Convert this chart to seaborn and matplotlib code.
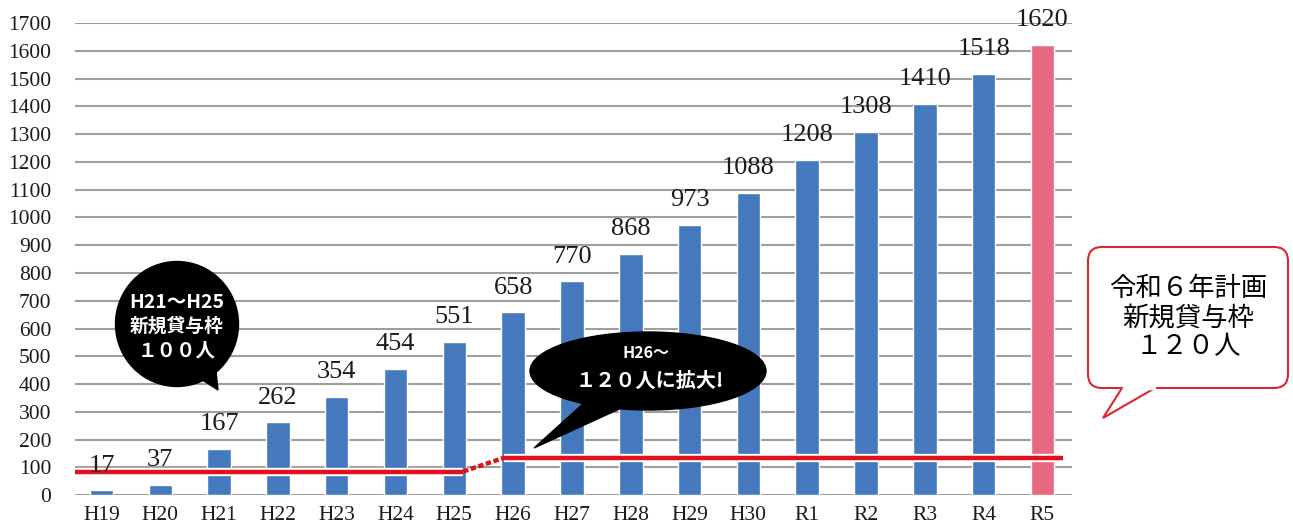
import numpy as np
import pandas as pd
import matplotlib
matplotlib.use("Agg")
import matplotlib.pyplot as plt
import seaborn as sns
from matplotlib.patches import Ellipse, Polygon, FancyBboxPatch

# data
years = ['H19', 'H20', 'H21', 'H22', 'H23', 'H24', 'H25', 'H26', 'H27',
         'H28', 'H29', 'H30', 'R1', 'R2', 'R3', 'R4', 'R5']
students = [17, 37, 167, 262, 354, 454, 551, 658, 770, 868, 973, 1088,
            1208, 1308, 1410, 1518, 1620]
bar_colors = ['#4479be'] * 16 + ['#e86880']
# new loan quota lines (schematic, as drawn)
quota_old = 85
quota_new = 135

sns.set_theme(style="whitegrid")
plt.rcParams['font.family'] = ['Liberation Serif', 'Noto Sans CJK JP']

df = pd.DataFrame({'year': years, 'n': students})

fig = plt.figure(figsize=(12.93, 5.29), dpi=100)
ax = fig.add_axes([0.058, 0.064, 0.771, 0.8925])

sns.barplot(data=df, x='year', y='n', hue='year', palette=bar_colors,
            legend=False, width=0.4, saturation=1, ax=ax, zorder=2)

ax.set_xlim(-0.45, 16.5)
ax.set_ylim(0, 1700)
ax.set_yticks(range(0, 1701, 100))
ax.set_xlabel('')
ax.set_ylabel('')
ax.set_axisbelow(True)
ax.grid(axis='y', color='#9e9e9e', linewidth=1.5)
ax.grid(axis='x', visible=False)
for s in ax.spines.values():
    s.set_visible(False)
ax.tick_params(axis='both', length=0, labelsize=15.5, colors='#1a1a1a')
ax.tick_params(axis='y', pad=17)
ax.tick_params(axis='x', pad=8)

# quota lines
xs_old = [-0.45, 6.15]
xs_new = [6.85, 16.35]
for xs, q in [(xs_old, quota_old), (xs_new, quota_new)]:
    ax.plot(xs, [q, q], color='white', lw=6, zorder=3, solid_capstyle='butt')
    ax.plot(xs, [q, q], color='#e0101e', lw=3.2, zorder=4, solid_capstyle='butt')
ax.plot([6.15, 6.85], [quota_old, quota_new], color='#e0101e', lw=3.2,
        ls=(0, (1.2, 0.6)), zorder=4)

# value labels
for i, v in enumerate(students):
    ax.annotate(str(v), (i, v), xytext=(0, 13.5), textcoords='offset points',
                ha='center', va='baseline', fontsize=19, color='#1a1a1a',
                zorder=5, annotation_clip=False)

# overlay for speech bubbles (pixel coords)
ov = fig.add_axes([0, 0, 1, 1], zorder=10)
ov.set_xlim(0, 1293)
ov.set_ylim(529, 0)
ov.axis('off')
ov.patch.set_alpha(0)

jp = ['Noto Sans CJK JP', 'DejaVu Sans']

# bubble 1
ov.add_patch(Polygon([(190, 372), (218, 390), (214, 352)], color='black'))
ov.add_patch(Ellipse((177, 324), 123, 125, color='black'))
ov.text(177, 303, 'H21～H25', ha='center', va='center', color='white',
        fontsize=14, fontweight='bold', family=jp)
ov.text(177, 326, '新規貸与枠', ha='center', va='center', color='white',
        fontsize=13.5, fontweight='bold', family=jp)
ov.text(177, 351, '１００人', ha='center', va='center', color='white',
        fontsize=14, fontweight='bold', family=jp)

# bubble 2
ov.add_patch(Polygon([(585, 402), (534, 448), (628, 405)], color='black'))
ov.add_patch(Ellipse((648, 371), 236, 78, color='black'))
ov.text(646, 353, 'H26～', ha='center', va='center', color='white',
        fontsize=11.5, fontweight='bold', family=jp)
ov.text(650, 380, '１２０人に拡大!', ha='center', va='center', color='white',
        fontsize=14.5, fontweight='bold', family=jp)

# bubble 3
red = '#d9262f'
ov.add_patch(FancyBboxPatch((1088, 247), 200, 141,
                            boxstyle='round,pad=0,rounding_size=14',
                            facecolor='white', edgecolor=red, lw=1.5))
ov.add_patch(Polygon([(1122, 388), (1103, 418), (1155, 388)], closed=False,
                     facecolor='white', edgecolor=red, lw=1.5))
ov.plot([1123.5, 1153.5], [388, 388], color='white', lw=2.5)
ov.text(1188, 318, '令和６年計画\n新規貸与枠\n１２０人', ha='center', va='center',
        color='black', fontsize=19, linespacing=1.1, family=jp)

fig.savefig('out.png', dpi=100, facecolor='white')
